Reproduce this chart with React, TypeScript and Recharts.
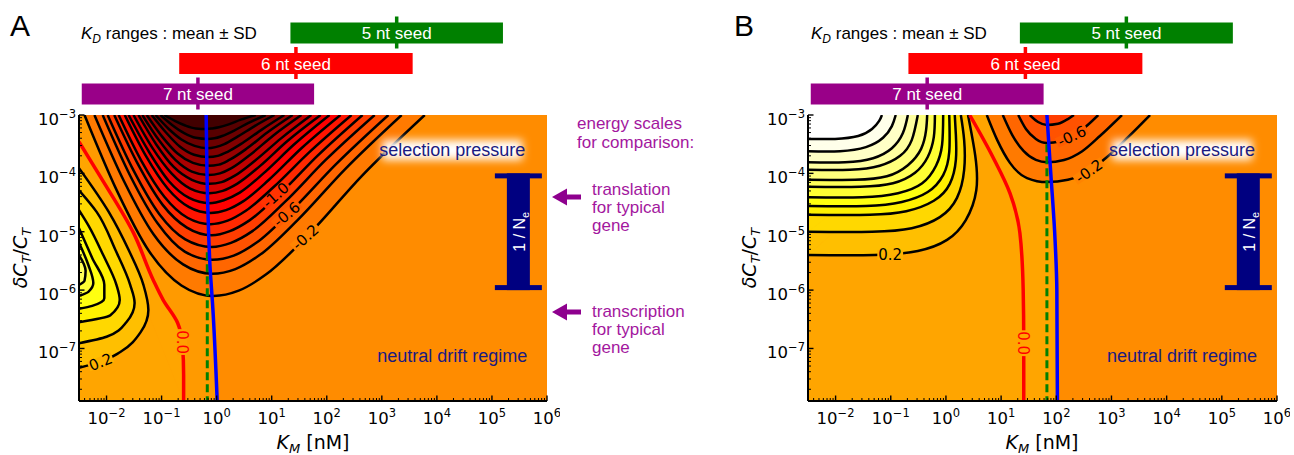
import React from 'react';
import { ScatterChart, Scatter, XAxis, YAxis, BarChart, Bar, Curve, Polygon } from 'recharts';

type Pt = [number, number];
type CurveKind = 'linear' | 'natural' | 'monotoneX' | 'monotoneY';

// ---------- data (log10 units: x = log10 K_M [nM], y = log10 dC_T/C_T) ----------

// K_D ranges, mean +- SD in log10 nM
const seedNames = ['5 nt seed', '6 nt seed', '7 nt seed'];
const kdMeanLog = [3.27, 1.44, -0.34];
const kdSdLog = [1.93, 2.12, 2.11];
const seedColors = ['#008000', '#ff0000', '#990088'];

const X_DOMAIN: [number, number] = [-2.5, 6];
const Y_DOMAIN: [number, number] = [-7.9, -3];
const xMajor = [-2, -1, 0, 1, 2, 3, 4, 5, 6];
const yMajor = [-7, -6, -5, -4, -3];

// panel A
const negLevelsA = [-0.2, -0.4, -0.6, -0.8, -1.0, -1.2, -1.4, -1.6, -1.8, -2.0, -2.2, -2.4, -2.6, -2.8, -3.0, -3.2];
const negContoursA: Pt[][] = [
  [[-2.40, -3], [-1.81, -4.30], [-1.23, -5.33], [-0.64, -5.92], [-0.06, -6.10], [0.40, -6.01], [0.90, -5.73], [1.67, -5.05], [2.63, -4.05], [3.78, -3]],
  [[-2.22, -3], [-1.68, -4.14], [-1.15, -5.04], [-0.61, -5.56], [-0.08, -5.72], [0.34, -5.64], [0.78, -5.40], [1.47, -4.80], [2.33, -3.93], [3.36, -3]],
  [[-2.07, -3], [-1.57, -4.04], [-1.07, -4.86], [-0.58, -5.34], [-0.08, -5.48], [0.31, -5.41], [0.72, -5.19], [1.36, -4.64], [2.16, -3.85], [3.12, -3]],
  [[-1.98, -3], [-1.51, -3.95], [-1.04, -4.70], [-0.57, -5.13], [-0.09, -5.26], [0.26, -5.19], [0.65, -4.99], [1.24, -4.49], [1.98, -3.77], [2.87, -3]],
  [[-1.86, -3], [-1.42, -3.86], [-0.98, -4.54], [-0.54, -4.93], [-0.09, -5.06], [0.24, -4.99], [0.59, -4.81], [1.14, -4.36], [1.83, -3.70], [2.65, -3]],
  [[-1.78, -3], [-1.37, -3.78], [-0.95, -4.40], [-0.53, -4.76], [-0.11, -4.87], [0.20, -4.81], [0.53, -4.64], [1.04, -4.23], [1.68, -3.64], [2.45, -3]],
  [[-1.67, -3], [-1.28, -3.71], [-0.89, -4.26], [-0.50, -4.58], [-0.11, -4.68], [0.17, -4.63], [0.48, -4.48], [0.95, -4.11], [1.54, -3.57], [2.25, -3]],
  [[-1.60, -3], [-1.23, -3.63], [-0.87, -4.13], [-0.50, -4.42], [-0.13, -4.51], [0.13, -4.46], [0.42, -4.33], [0.85, -4.00], [1.40, -3.51], [2.05, -3]],
  [[-1.51, -3], [-1.17, -3.56], [-0.82, -4.00], [-0.48, -4.26], [-0.13, -4.34], [0.11, -4.30], [0.37, -4.18], [0.78, -3.88], [1.28, -3.45], [1.89, -3]],
  [[-1.42, -3], [-1.10, -3.50], [-0.78, -3.89], [-0.45, -4.11], [-0.13, -4.18], [0.09, -4.15], [0.33, -4.04], [0.70, -3.78], [1.17, -3.40], [1.72, -3]],
  [[-1.35, -3], [-1.05, -3.43], [-0.75, -3.77], [-0.45, -3.97], [-0.15, -4.03], [0.06, -4.00], [0.27, -3.91], [0.61, -3.68], [1.03, -3.35], [1.54, -3]],
  [[-1.27, -3], [-0.99, -3.37], [-0.71, -3.66], [-0.43, -3.82], [-0.15, -3.87], [0.04, -3.85], [0.23, -3.77], [0.54, -3.58], [0.92, -3.30], [1.38, -3]],
  [[-1.18, -3], [-0.92, -3.30], [-0.67, -3.54], [-0.41, -3.68], [-0.15, -3.72], [0.02, -3.70], [0.20, -3.63], [0.47, -3.48], [0.82, -3.25], [1.23, -3]],
  [[-1.11, -3], [-0.87, -3.24], [-0.64, -3.42], [-0.40, -3.53], [-0.17, -3.57], [-0.02, -3.55], [0.14, -3.50], [0.38, -3.37], [0.69, -3.19], [1.05, -3]],
  [[-1.02, -3], [-0.81, -3.17], [-0.59, -3.31], [-0.38, -3.39], [-0.17, -3.41], [-0.04, -3.40], [0.10, -3.36], [0.31, -3.27], [0.57, -3.14], [0.89, -3]],
  [[-0.95, -3], [-0.76, -3.10], [-0.57, -3.18], [-0.38, -3.23], [-0.18, -3.24], [-0.08, -3.23], [0.04, -3.21], [0.22, -3.16], [0.44, -3.08], [0.71, -3]],
];
const posLevelsA = [0.2, 0.4, 0.6, 0.8, 1.0, 1.2];
const posContoursA: Pt[][] = [
  [[-2.5, -3.91], [-1.96, -4.66], [-1.60, -5.31], [-1.33, -5.91], [-1.24, -6.34], [-1.38, -6.72], [-1.75, -7.06], [-2.11, -7.23], [-2.5, -7.33]],
  [[-2.5, -4.29], [-2.18, -4.66], [-1.84, -5.31], [-1.57, -5.91], [-1.49, -6.22], [-1.64, -6.55], [-2.00, -6.80], [-2.5, -6.91]],
  [[-2.5, -4.63], [-2.33, -4.89], [-2.06, -5.40], [-1.82, -5.91], [-1.76, -6.17], [-1.93, -6.43], [-2.5, -6.55]],
  [[-2.5, -4.94], [-2.26, -5.45], [-2.04, -5.91], [-2.04, -6.14], [-2.26, -6.27], [-2.5, -6.32]],
  [[-2.5, -5.19], [-2.33, -5.57], [-2.24, -5.88], [-2.33, -6.03], [-2.5, -6.10]],
  [[-2.5, -5.40], [-2.38, -5.67], [-2.40, -5.84], [-2.5, -5.91]],
];
const zeroLineA: Pt[] = [[-2.5, -3.46], [-2.11, -4.06], [-1.51, -5.02], [-1.15, -5.83], [-0.97, -6.17], [-0.71, -6.56], [-0.62, -6.94], [-0.60, -7.45], [-0.60, -7.9]];
const optLineA: Pt[] = [[-0.19, -3], [-0.16, -4.6], [-0.12, -5.6], [-0.07, -6.3], [0.01, -7.9]];
const dashLineA: Pt[] = [[-0.17, -5.35], [-0.17, -7.9]];

// panel B
const negLevelsB = [-0.2, -0.4, -0.6, -0.8];
const negContoursB: Pt[][] = [
  [[0.74, -3], [0.93, -3.43], [1.16, -3.82], [1.47, -4.08], [1.83, -4.15], [2.21, -4.11], [2.59, -3.96], [2.92, -3.72], [3.30, -3.38], [3.70, -3]],
  [[1.03, -3], [1.20, -3.34], [1.41, -3.62], [1.63, -3.77], [1.83, -3.81], [2.14, -3.77], [2.47, -3.62], [2.79, -3.36], [3.19, -3]],
  [[1.31, -3], [1.45, -3.24], [1.63, -3.41], [1.83, -3.48], [2.07, -3.45], [2.28, -3.36], [2.52, -3.21], [2.76, -3]],
  [[1.52, -3], [1.67, -3.12], [1.83, -3.17], [2.03, -3.15], [2.21, -3.07], [2.32, -3]],
];
const posLevelsB = [0.2, 0.4, 0.6, 0.8, 1.0, 1.2, 1.4, 1.6, 1.8, 2.0, 2.2];
const posContoursB: Pt[][] = [
  [[-2.5, -5.40], [-1.30, -5.40], [-0.51, -5.33], [0.02, -5.14], [0.36, -4.80], [0.55, -4.29], [0.53, -3.69], [0.40, -3]],
  [[-2.5, -5.00], [-1.34, -5.00], [-0.62, -4.94], [-0.11, -4.75], [0.20, -4.42], [0.33, -3.94], [0.33, -3.43], [0.27, -3]],
  [[-2.5, -4.71], [-1.38, -4.71], [-0.72, -4.65], [-0.22, -4.47], [0.07, -4.18], [0.18, -3.77], [0.18, -3.34], [0.16, -3]],
  [[-2.5, -4.56], [-1.45, -4.56], [-0.80, -4.49], [-0.33, -4.32], [-0.05, -4.03], [0.06, -3.63], [0.06, -3]],
  [[-2.5, -4.41], [-1.52, -4.41], [-0.87, -4.34], [-0.43, -4.17], [-0.18, -3.87], [-0.07, -3.51], [-0.05, -3]],
  [[-2.5, -4.23], [-1.56, -4.23], [-0.96, -4.17], [-0.56, -3.99], [-0.33, -3.72], [-0.22, -3.38], [-0.20, -3]],
  [[-2.5, -4.11], [-1.65, -4.11], [-1.07, -4.05], [-0.69, -3.86], [-0.45, -3.58], [-0.36, -3.26], [-0.34, -3]],
  [[-2.5, -3.94], [-1.74, -3.94], [-1.20, -3.87], [-0.83, -3.70], [-0.62, -3.43], [-0.51, -3]],
  [[-2.5, -3.81], [-1.83, -3.81], [-1.32, -3.74], [-0.98, -3.57], [-0.78, -3.31], [-0.69, -3]],
  [[-2.5, -3.62], [-1.92, -3.62], [-1.45, -3.55], [-1.14, -3.39], [-0.98, -3.19], [-0.91, -3]],
  [[-2.5, -3.41], [-2.01, -3.41], [-1.59, -3.36], [-1.34, -3.24], [-1.21, -3.10], [-1.16, -3]],
];
const zeroLineB: Pt[] = [[0.43, -3], [0.85, -3.72], [1.16, -4.34], [1.34, -5.02], [1.40, -6.0], [1.41, -6.9], [1.41, -7.9]];
const optLineB: Pt[] = [[1.83, -3], [1.90, -4.0], [1.97, -5.0], [2.01, -6.0], [2.02, -7.9]];
const dashLineB: Pt[] = [[1.83, -3.5], [1.83, -7.9]];

// 1/N_e range and annotation anchors
const neX = 5.48;
const neRange: Pt = [-4, -6];
const annotX = 4.28;
const selectionY = -3.6;
const driftY = -7.13;

interface LabelItem { x: number; y: number; text: string; angle: number; bg: string; color: string }
const labelsA: LabelItem[] = [
  { x: 1.07, y: -4.37, text: '-1.0', angle: -42, bg: '#ff3300', color: '#000' },
  { x: 1.27, y: -4.70, text: '-0.6', angle: -40, bg: '#ff5c00', color: '#000' },
  { x: 1.61, y: -5.09, text: '-0.2', angle: -42, bg: '#ff8400', color: '#000' },
  { x: -2.11, y: -7.23, text: '0.2', angle: -22, bg: '#ffb200', color: '#000' },
  { x: -0.63, y: -6.89, text: '0.0', angle: 90, bg: '#ffa000', color: '#ff0000' },
];
const labelsB: LabelItem[] = [
  { x: 2.28, y: -3.36, text: '-0.6', angle: -25, bg: '#ff5c00', color: '#000' },
  { x: 2.59, y: -3.96, text: '-0.2', angle: -35, bg: '#ff8400', color: '#000' },
  { x: -1.01, y: -5.40, text: '0.2', angle: 0, bg: '#ffb200', color: '#000' },
  { x: 1.40, y: -6.91, text: '0.0', angle: 90, bg: '#ffa500', color: '#ff0000' },
];

// ---------- styling helpers ----------
const FONT = "'Liberation Sans', Arial, sans-serif";
const MATH = "'DejaVu Sans', sans-serif";
const NAVY = '#000080';
const TEXT_NAVY = '#1a1a80';
const PURPLE_TXT = '#a3179e';
const ARROW = '#8e008e';

const hot = (t: number) => {
  const c = Math.max(0, Math.min(1, t));
  const ch = (v: number) => Math.round(Math.max(0, Math.min(1, v)) * 255).toString(16).padStart(2, '0');
  return `#${ch(c / 0.365)}${ch((c - 0.365) / 0.375)}${ch((c - 0.74) / 0.26)}`;
};
const bandColor = (mid: number) => hot(0.59 + (mid < 0 ? 0.15 : 0.185) * mid);

const minorTicks = (lo: number, hi: number) => {
  const out: number[] = [];
  for (let n = Math.floor(lo); n < hi; n++) {
    for (let k = 2; k < 10; k++) {
      const v = n + Math.log10(k);
      if (v > lo && v < hi) out.push(v);
    }
  }
  return out;
};
const xTicks = [...xMajor, ...minorTicks(X_DOMAIN[0], X_DOMAIN[1])].sort((a, b) => a - b);
const yTicks = [...yMajor, ...minorTicks(Y_DOMAIN[0], Y_DOMAIN[1])].sort((a, b) => a - b);

const toXY = (pts: Pt[]) => pts.map(([x, y]) => ({ x, y }));
const noDot = () => <g />;
const fmtExp = (v: number) => (v < 0 ? `\u2212${Math.abs(v)}` : `${v}`);
const isMajor = (list: number[], v: number) => list.some((m) => Math.abs(m - v) < 1e-6);

const fillLine = (color: string, curve: CurveKind, nCorners: number) => (lp: any) => {
  const pts = lp.points as { x: number; y: number }[];
  const body = nCorners ? pts.slice(0, pts.length - nCorners) : pts;
  const corners = nCorners ? pts.slice(pts.length - nCorners) : [];
  return (
    <g>
      <Curve points={body} type={curve} fill={color} stroke={color} strokeWidth={0.8} />
      {nCorners > 0 && (
        <Polygon points={[body[body.length - 1], ...corners, body[0]]} fill={color} stroke={color} strokeWidth={0.8} />
      )}
    </g>
  );
};

const strokeLine = (color: string, width: number, curve: CurveKind, dash?: string) => (lp: any) => (
  <Curve points={lp.points} type={curve} fill="none" stroke={color} strokeWidth={width} strokeDasharray={dash} />
);

const ContourLabel = (props: any) => {
  const { cx, cy, payload } = props;
  const { text, angle, bg, color } = payload as LabelItem;
  const w = text.length * 7.6 + 3;
  return (
    <g transform={`translate(${cx},${cy}) rotate(${angle})`}>
      <rect x={-w / 2} y={-5} width={w} height={10} fill={bg} />
      <text x={0} y={0} dy="0.36em" textAnchor="middle" fontFamily={MATH} fontSize={15} fill={color}>
        {text}
      </text>
    </g>
  );
};

const GlowText = (uid: string) => (props: any) => {
  const { cx, cy } = props;
  return (
    <g>
      <defs>
        <filter id={`glow-${uid}`} x="-30%" y="-100%" width="160%" height="300%">
          <feGaussianBlur stdDeviation="4" />
        </filter>
      </defs>
      <rect x={cx - 70} y={cy - 10} width={140} height={20} fill="#fff" filter={`url(#glow-${uid})`} />
      <text x={cx} y={cy} dy="0.35em" textAnchor="middle" fontFamily={FONT} fontSize={18} fill={TEXT_NAVY}>
        selection pressure
      </text>
    </g>
  );
};

const DriftText = (props: any) => (
  <text x={props.cx} y={props.cy} dy="0.35em" textAnchor="middle" fontFamily={FONT} fontSize={18} fill={TEXT_NAVY}>
    neutral drift regime
  </text>
);

const NeBar = (lp: any) => {
  const [a, b] = lp.points as { x: number; y: number }[];
  const cx = a.x;
  const top = Math.min(a.y, b.y);
  const bot = Math.max(a.y, b.y);
  return (
    <g>
      <rect x={cx - 23.5} y={top} width={47} height={5} fill={NAVY} />
      <rect x={cx - 11.5} y={top} width={23} height={bot - top} fill={NAVY} />
      <rect x={cx - 23.5} y={bot - 5} width={47} height={5} fill={NAVY} />
      <text transform={`translate(${cx + 1},${(top + bot) / 2}) rotate(-90)`} textAnchor="middle" dy="0.35em" fontFamily={FONT} fontSize={16} fill="#fff">
        1 / N<tspan fontSize={11} dy={4}>e</tspan>
      </text>
    </g>
  );
};

// ---------- axis ticks (drawn inside, matplotlib style) ----------
const XTick = (props: any) => {
  const { x, y, payload } = props;
  const major = isMajor(xMajor, payload.value);
  return (
    <g>
      <line x1={x} x2={x} y1={y} y2={y - (major ? 5.5 : 3)} stroke="#000" strokeWidth={major ? 1.4 : 1} />
      {major && (
        <text x={x} y={y + 23} textAnchor="middle" fontFamily={MATH} fontSize={16.5} fill="#000">
          10<tspan dy={-7} fontSize={11.5}>{fmtExp(payload.value)}</tspan>
        </text>
      )}
    </g>
  );
};

const YTick = (props: any) => {
  const { x, y, payload } = props;
  const major = isMajor(yMajor, payload.value);
  return (
    <g>
      <line x1={x} x2={x + (major ? 5.5 : 3)} y1={y} y2={y} stroke="#000" strokeWidth={major ? 1.4 : 1} />
      {major && (
        <text x={x - 3} y={y + 10} textAnchor="end" fontFamily={MATH} fontSize={16.5} fill="#000">
          10<tspan dy={-7} fontSize={11.5}>{fmtExp(payload.value)}</tspan>
        </text>
      )}
    </g>
  );
};

// ---------- components ----------
interface FillSpec { pts: Pt[]; corners: Pt[]; color: string; curve: CurveKind }
interface PanelProps {
  uid: string;
  left: number;
  width: number;
  baseFills: FillSpec[];
  posContours: Pt[][];
  posLevels: number[];
  posCorners: Pt[];
  posCurve: CurveKind;
  negContours: Pt[][];
  negLevels: number[];
  zeroLine: Pt[];
  optLine: Pt[];
  dashLine: Pt[];
  labels: LabelItem[];
}

const plotBox: Pt[] = [[X_DOMAIN[0], Y_DOMAIN[1]], [X_DOMAIN[1], Y_DOMAIN[1]], [X_DOMAIN[1], Y_DOMAIN[0]], [X_DOMAIN[0], Y_DOMAIN[0]]];

const ContourPanel = (p: PanelProps) => {
  const s: React.ReactNode[] = [];
  const add = (key: string, pts: Pt[], line: any, shape: any = noDot) =>
    s.push(<Scatter key={key} data={toXY(pts)} shape={shape} line={line} lineType="joint" isAnimationActive={false} />);

  add('bg', plotBox, fillLine('#ff8c00', 'linear', 0));
  p.baseFills.forEach((f, i) => add(`base${i}`, [...f.pts, ...f.corners], fillLine(f.color, f.curve, f.corners.length)));
  p.posContours.forEach((c, i) =>
    add(`pf${i}`, [...c, ...p.posCorners], fillLine(bandColor(p.posLevels[i] + 0.1), p.posCurve, p.posCorners.length)),
  );
  p.negContours.forEach((c, i) => add(`nf${i}`, c, fillLine(bandColor(p.negLevels[i] - 0.1), 'monotoneX', 0)));
  p.posContours.forEach((c, i) => add(`pl${i}`, c, strokeLine('#000', 2.5, p.posCurve)));
  p.negContours.forEach((c, i) => add(`nl${i}`, c, strokeLine('#000', 2.5, 'monotoneX')));
  add('zero', p.zeroLine, strokeLine('#ff0000', 3.5, 'monotoneY'));
  add('dash', p.dashLine, strokeLine('#008000', 3, 'linear', '8 4'));
  add('opt', p.optLine, strokeLine('#0000ff', 3.5, 'monotoneY'));
  add('ne', [[neX, neRange[0]], [neX, neRange[1]]], NeBar);

  return (
    <div style={{ position: 'absolute', left: p.left, top: 0 }}>
      <ScatterChart width={p.width} height={455} margin={{ top: 115, right: 13, bottom: 54, left: 79 }}>
        <XAxis type="number" dataKey="x" domain={X_DOMAIN} allowDataOverflow hide />
        <YAxis type="number" dataKey="y" domain={Y_DOMAIN} allowDataOverflow hide />
        {s}
        <Scatter data={p.labels} shape={ContourLabel} isAnimationActive={false} />
        <Scatter data={[{ x: annotX, y: selectionY }]} shape={GlowText(p.uid)} isAnimationActive={false} />
        <Scatter data={[{ x: annotX, y: driftY }]} shape={DriftText} isAnimationActive={false} />
      </ScatterChart>
    </div>
  );
};

const AxesFrame = ({ left, width }: { left: number; width: number }) => (
  <div style={{ position: 'absolute', left, top: 0 }}>
    <ScatterChart width={width} height={455} margin={{ top: 115, right: 13, bottom: 14, left: 9 }}>
      <XAxis
        type="number"
        dataKey="x"
        domain={X_DOMAIN}
        allowDataOverflow
        ticks={xTicks}
        interval={0}
        tickSize={0}
        tickMargin={0}
        tickLine={false}
        height={40}
        axisLine={{ stroke: '#000', strokeWidth: 2 }}
        tick={XTick}
      />
      <YAxis
        type="number"
        dataKey="y"
        domain={Y_DOMAIN}
        allowDataOverflow
        ticks={yTicks}
        interval={0}
        tickSize={0}
        tickMargin={0}
        tickLine={false}
        width={70}
        axisLine={{ stroke: '#000', strokeWidth: 2 }}
        tick={YTick}
      />
      <XAxis xAxisId="top" orientation="top" type="number" domain={X_DOMAIN} height={0} tick={false} tickLine={false} axisLine={{ stroke: '#000', strokeWidth: 2 }} />
      <YAxis yAxisId="right" orientation="right" type="number" domain={Y_DOMAIN} width={0} tick={false} tickLine={false} axisLine={{ stroke: '#000', strokeWidth: 2 }} />
      <Scatter data={[{ x: 0, y: -5 }]} shape={noDot} isAnimationActive={false} />
    </ScatterChart>
  </div>
);

const seedData = seedNames.map((name, i) => ({
  name,
  range: [kdMeanLog[i] - kdSdLog[i], kdMeanLog[i] + kdSdLog[i]],
  color: seedColors[i],
}));

const SeedShape = (props: any) => {
  const { x, y, width, height, payload } = props;
  const cx = x + width / 2;
  return (
    <g>
      <rect x={x} y={y} width={width} height={height} fill={payload.color} />
      <rect x={cx - 1.75} y={y - 6} width={3.5} height={height + 11} fill={payload.color} />
      <text x={cx} y={y + height / 2} dy="0.36em" textAnchor="middle" fontFamily={FONT} fontSize={17} fill="#fff">
        {payload.name}
      </text>
    </g>
  );
};

const SeedBars = ({ left, width }: { left: number; width: number }) => (
  <div style={{ position: 'absolute', left, top: 0 }}>
    <BarChart layout="vertical" width={width} height={115} data={seedData} margin={{ top: 17.5, right: 13, bottom: 6, left: 79 }}>
      <XAxis type="number" domain={X_DOMAIN} hide />
      <YAxis type="category" dataKey="name" hide />
      <Bar dataKey="range" barSize={21} isAnimationActive={false} shape={SeedShape} />
    </BarChart>
  </div>
);

const KdTitle = ({ x }: { x: number }) => (
  <text x={x} y={39} fontFamily={FONT} fontSize={17} fill="#000">
    <tspan fontStyle="italic">K</tspan>
    <tspan fontStyle="italic" fontSize={12} dy={4}>D</tspan>
    <tspan dy={-4}> ranges : mean ±  SD</tspan>
  </text>
);

const XTitle = ({ cx }: { cx: number }) => (
  <text x={cx} y={449} textAnchor="middle" fontFamily={MATH} fontSize={19} fill="#000">
    <tspan fontStyle="italic">K</tspan>
    <tspan fontStyle="italic" fontSize={13} dy={4}>M</tspan>
    <tspan dy={-4}> [nM]</tspan>
  </text>
);

const YTitle = ({ x }: { x: number }) => (
  <text transform={`translate(${x},258) rotate(-90)`} textAnchor="middle" fontFamily={MATH} fontSize={19} fill="#000">
    <tspan fontStyle="italic">δC</tspan>
    <tspan fontStyle="italic" fontSize={13} dy={4}>T</tspan>
    <tspan dy={-4}>/</tspan>
    <tspan fontStyle="italic">C</tspan>
    <tspan fontStyle="italic" fontSize={13} dy={4}>T</tspan>
  </text>
);

const Arrow = ({ tipX, y }: { tipX: number; y: number }) => (
  <polygon
    points={`${tipX},${y} ${tipX + 15},${y - 8.5} ${tipX + 15},${y - 2.5} ${tipX + 29},${y - 2.5} ${tipX + 29},${y + 2.5} ${tipX + 15},${y + 2.5} ${tipX + 15},${y + 8.5}`}
    fill={ARROW}
  />
);

const Annotations = () => (
  <svg width={1294} height={455} style={{ position: 'absolute', left: 0, top: 0, pointerEvents: 'none' }}>
    <text x={10} y={36} fontFamily={FONT} fontSize={30} fill="#000">A</text>
    <text x={734} y={36} fontFamily={FONT} fontSize={30} fill="#000">B</text>
    <KdTitle x={81} />
    <KdTitle x={811} />
    <XTitle cx={313} />
    <XTitle cx={1042} />
    <YTitle x={27} />
    <YTitle x={756} />
    <g fontFamily={FONT} fontSize={17} fill={PURPLE_TXT}>
      <text x={577} y={129}>energy scales</text>
      <text x={577} y={148}>for comparison:</text>
      <text x={592} y={195}>translation</text>
      <text x={592} y={213}>for typical</text>
      <text x={592} y={231}>gene</text>
      <text x={592} y={317}>transcription</text>
      <text x={592} y={335}>for typical</text>
      <text x={592} y={353}>gene</text>
    </g>
    <Arrow tipX={552} y={197} />
    <Arrow tipX={552} y={312} />
  </svg>
);

const panelA: Omit<PanelProps, 'left' | 'width'> = {
  uid: 'a',
  baseFills: [
    { pts: optLineA, corners: [[-2.5, -7.9], [-2.5, -3]], color: '#ff9a00', curve: 'monotoneY' },
    { pts: zeroLineA, corners: [[-2.5, -7.9]], color: '#ffa500', curve: 'monotoneY' },
  ],
  posContours: posContoursA,
  posLevels: posLevelsA,
  posCorners: [],
  posCurve: 'monotoneY',
  negContours: negContoursA,
  negLevels: negLevelsA,
  zeroLine: zeroLineA,
  optLine: optLineA,
  dashLine: dashLineA,
  labels: labelsA,
};

const panelB: Omit<PanelProps, 'left' | 'width'> = {
  uid: 'b',
  baseFills: [{ pts: optLineB, corners: [[-2.5, -7.9], [-2.5, -3]], color: '#ffa500', curve: 'monotoneY' }],
  posContours: posContoursB,
  posLevels: posLevelsB,
  posCorners: [[-2.5, -3]],
  posCurve: 'natural',
  negContours: negContoursB,
  negLevels: negLevelsB,
  zeroLine: zeroLineB,
  optLine: optLineB,
  dashLine: dashLineB,
  labels: labelsB,
};

export default function App() {
  return (
    <div style={{ position: 'absolute', left: 0, top: 0, width: 1294, height: 455, background: '#fff', overflow: 'hidden' }}>
      <SeedBars left={0} width={560} />
      <SeedBars left={729} width={561} />
      <ContourPanel left={0} width={560} {...panelA} />
      <ContourPanel left={729} width={561} {...panelB} />
      <AxesFrame left={0} width={560} />
      <AxesFrame left={729} width={561} />
      <Annotations />
    </div>
  );
}
